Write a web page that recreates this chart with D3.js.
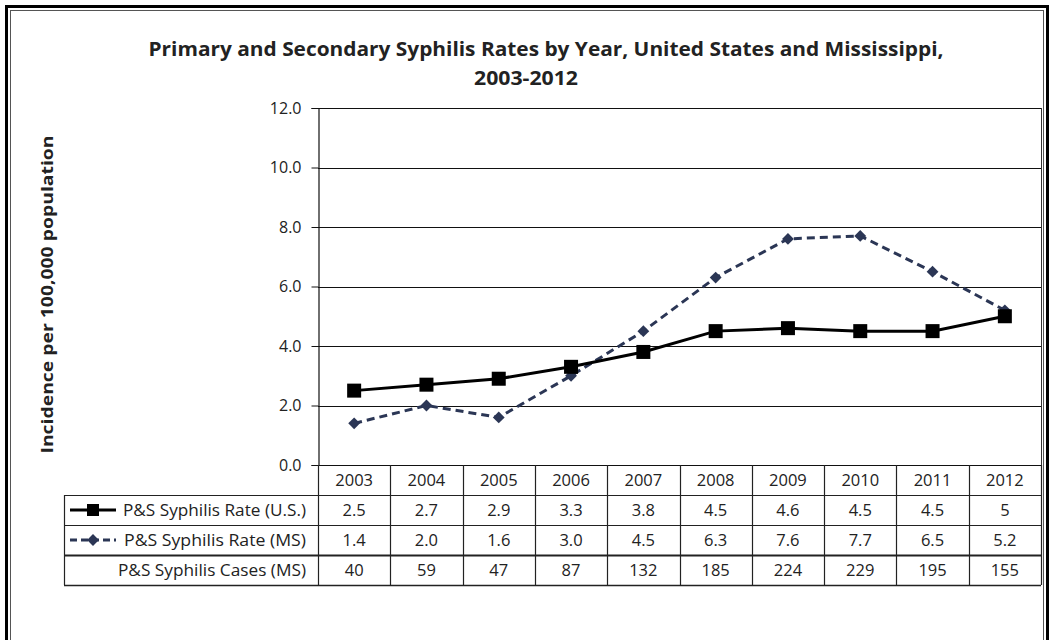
<!DOCTYPE html>
<html>
<head>
<meta charset="utf-8">
<script src="https://cdn.jsdelivr.net/npm/d3@7"></script>
<style>
  body { margin: 0; background: #fff; }
  text { font-family: "Open Sans", "DejaVu Sans", sans-serif; fill: #222; }
</style>
</head>
<body>
<div id="chart"></div>
<script>
const years = ["2003","2004","2005","2006","2007","2008","2009","2010","2011","2012"];
const usRate = [2.5, 2.7, 2.9, 3.3, 3.8, 4.5, 4.6, 4.5, 4.5, 5];
const msRate = [1.4, 2.0, 1.6, 3.0, 4.5, 6.3, 7.6, 7.7, 6.5, 5.2];
const msCases = [40, 59, 47, 87, 132, 185, 224, 229, 195, 155];
const usLabels = ["2.5","2.7","2.9","3.3","3.8","4.5","4.6","4.5","4.5","5"];
const msLabels = ["1.4","2.0","1.6","3.0","4.5","6.3","7.6","7.7","6.5","5.2"];
const yTicks = [0, 2, 4, 6, 8, 10, 12];

const W = 1052, H = 640;
const plotLeft = 318, plotRight = 1041, plotTop = 108, plotBottom = 465;
const tableLeft = 64, tableBottom = 585;

const svg = d3.select("#chart").append("svg")
    .attr("width", W).attr("height", H);

// outer double frame
svg.append("rect").attr("x", 6.5).attr("y", 6.5).attr("width", 1041).attr("height", 660)
   .attr("fill", "none").attr("stroke", "#000").attr("stroke-width", 3);
svg.append("rect").attr("x", 10.5).attr("y", 10.5).attr("width", 1033).attr("height", 650)
   .attr("fill", "none").attr("stroke", "#555").attr("stroke-width", 1);

const x = d3.scaleBand().domain(years).range([plotLeft, plotRight]);
const y = d3.scaleLinear().domain([0, 12]).range([plotBottom, plotTop]);

// title
svg.append("text").attr("x", 546).attr("y", 56).attr("text-anchor", "middle")
   .attr("font-size", 19).attr("font-weight", "bold")
   .attr("textLength", 795).attr("lengthAdjust", "spacingAndGlyphs")
   .text("Primary and Secondary Syphilis Rates by Year, United States and Mississippi,");
svg.append("text").attr("x", 526).attr("y", 85).attr("text-anchor", "middle")
   .attr("font-size", 19).attr("font-weight", "bold")
   .attr("textLength", 104).attr("lengthAdjust", "spacingAndGlyphs")
   .text("2003-2012");

// gridlines
svg.append("g").selectAll("line").data(yTicks).join("line")
   .attr("x1", plotLeft).attr("x2", plotRight)
   .attr("y1", d => Math.round(y(d)) + 0.5).attr("y2", d => Math.round(y(d)) + 0.5)
   .attr("stroke", "#111").attr("stroke-width", 1.2);

// y axis
const yAxis = svg.append("g").attr("transform", `translate(${plotLeft + 0.5},0)`)
   .call(d3.axisLeft(y).tickValues(yTicks).tickFormat(d3.format(".1f")).tickSize(7).tickPadding(10));
yAxis.select(".domain").attr("stroke", "#111").attr("stroke-width", 1.2);
yAxis.selectAll(".tick line").attr("stroke", "#111");
yAxis.selectAll(".tick text").attr("font-size", 16).attr("fill", "#333")
   .attr("font-family", "\"Open Sans\", sans-serif");

// right frame of plot
svg.append("line").attr("x1", plotRight + 0.5).attr("x2", plotRight + 0.5)
   .attr("y1", plotTop).attr("y2", plotBottom)
   .attr("stroke", "#333").attr("stroke-width", 1);

// y title
svg.append("text").attr("transform", `translate(53,${(plotTop + plotBottom) / 2 + 8}) rotate(-90)`)
   .attr("text-anchor", "middle").attr("font-size", 15.5).attr("font-weight", "bold")
   .attr("textLength", 318).attr("lengthAdjust", "spacingAndGlyphs")
   .text("Incidence per 100,000 population");

// lines
const line = d3.line().x((d, i) => x(years[i]) + x.bandwidth() / 2).y(d => y(d));

svg.append("path").datum(msRate).attr("d", line)
   .attr("fill", "none").attr("stroke", "#2b3655").attr("stroke-width", 3)
   .attr("stroke-dasharray", "8,5");
svg.append("path").datum(usRate).attr("d", line)
   .attr("fill", "none").attr("stroke", "#000").attr("stroke-width", 3);

const diamond = d3.symbol().type(d3.symbolSquare).size(70);
svg.append("g").selectAll("path").data(msRate).join("path")
   .attr("d", diamond)
   .attr("transform", (d, i) => `translate(${x(years[i]) + x.bandwidth() / 2},${y(d)}) rotate(45)`)
   .attr("fill", "#2b3655");

svg.append("g").selectAll("rect").data(usRate).join("rect")
   .attr("x", (d, i) => x(years[i]) + x.bandwidth() / 2 - 7)
   .attr("y", d => y(d) - 7)
   .attr("width", 14).attr("height", 14).attr("fill", "#000");

// data table
const rows = d3.scaleBand().domain(["year", "us", "ms", "cases"]).range([plotBottom, tableBottom]);
const rowH = rows.bandwidth();
const tbl = svg.append("g").attr("stroke", "#222").attr("stroke-width", 1.2);

// vertical column lines
tbl.selectAll("line.col").data(years.concat(["end"])).join("line")
   .attr("x1", (d, i) => Math.round(plotLeft + i * x.step()) + 0.5)
   .attr("x2", (d, i) => Math.round(plotLeft + i * x.step()) + 0.5)
   .attr("y1", plotBottom).attr("y2", tableBottom);
// horizontal row lines below header
tbl.selectAll("line.row").data(["us", "ms", "cases"]).join("line")
   .attr("x1", tableLeft).attr("x2", plotRight)
   .attr("y1", d => Math.round(rows(d)) + 0.5).attr("y2", d => Math.round(rows(d)) + 0.5)
   .attr("stroke-width", d => d === "cases" ? 2.2 : 1.2);
tbl.append("line").attr("x1", tableLeft).attr("x2", plotRight)
   .attr("y1", tableBottom + 0.5).attr("y2", tableBottom + 0.5)
   .attr("stroke-width", 1.6);
tbl.append("line").attr("x1", tableLeft + 0.5).attr("x2", tableLeft + 0.5)
   .attr("y1", rows("us")).attr("y2", tableBottom);

const cellX = d => x(d) + x.bandwidth() / 2;
const rowText = (key, vals) => svg.append("g").selectAll("text").data(vals).join("text")
   .attr("x", (d, i) => cellX(years[i]))
   .attr("y", rows(key) + rowH / 2 + 6)
   .attr("text-anchor", "middle").attr("font-size", 16.5).attr("fill", "#333")
   .text(d => d);
rowText("year", years);
rowText("us", usLabels);
rowText("ms", msLabels);
rowText("cases", msCases);

// row labels
const labels = [
  { key: "us", text: "P&S Syphilis Rate (U.S.)", w: 183 },
  { key: "ms", text: "P&S Syphilis Rate (MS)", w: 182 },
  { key: "cases", text: "P&S Syphilis Cases (MS)", w: 188 }
];
svg.append("g").selectAll("text").data(labels).join("text")
   .attr("x", 306).attr("y", d => rows(d.key) + rowH / 2 + 6)
   .attr("text-anchor", "end").attr("font-size", 16.5).attr("fill", "#333")
   .attr("textLength", d => d.w).attr("lengthAdjust", "spacingAndGlyphs")
   .text(d => d.text);

// legend keys
const keyY = k => rows(k) + rowH / 2;
svg.append("line").attr("x1", 70).attr("x2", 116).attr("y1", keyY("us")).attr("y2", keyY("us"))
   .attr("stroke", "#000").attr("stroke-width", 3);
svg.append("rect").attr("x", 87).attr("y", keyY("us") - 6).attr("width", 12).attr("height", 12).attr("fill", "#000");
svg.append("line").attr("x1", 70).attr("x2", 116).attr("y1", keyY("ms")).attr("y2", keyY("ms"))
   .attr("stroke", "#2b3655").attr("stroke-width", 3).attr("stroke-dasharray", "7,4");
svg.append("path").attr("d", diamond).attr("transform", `translate(93,${keyY("ms")}) rotate(45)`).attr("fill", "#2b3655");
</script>
</body>
</html>
